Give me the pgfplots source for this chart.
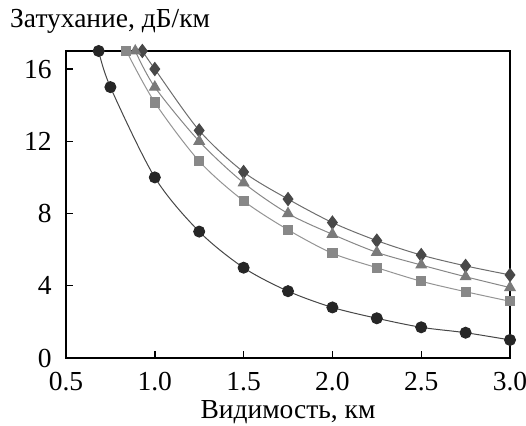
\documentclass[border=0pt]{standalone}
\usepackage{pgfplots}
\pgfplotsset{compat=1.18}
\usepackage{fontspec}
\setmainfont{Liberation Serif}
\definecolor{cA}{HTML}{262626}
\definecolor{cB}{HTML}{484848}
\definecolor{cC}{HTML}{7A7A7A}
\definecolor{cD}{HTML}{888888}
\begin{document}
\fontsize{27.5}{32}\selectfont
\begin{tikzpicture}
\path[use as bounding box] (0,0) rectangle (526pt,425pt);
\begin{axis}[
  at={(66pt,67pt)}, anchor=south west,
  scale only axis, width=444pt, height=307pt,
  xmin=0.5, xmax=3.0, ymin=0, ymax=17,
  xtick={0.5,1.0,1.5,2.0,2.5,3.0},
  ytick={0,4,8,12,16},
  xticklabel style={/pgf/number format/fixed,/pgf/number format/precision=1,/pgf/number format/fixed zerofill},
  /pgf/number format/assume math mode=true,
  tick label style={font=\fontsize{27.5}{32}\selectfont},
  tick align=inside, major tick length=7pt,
  xtick pos=bottom, ytick pos=left,
  axis line style={line width=1.6pt},
  major tick style={line width=1.4pt, black},
  xticklabel style={yshift=-5pt},
  yticklabel style={xshift=-5pt},
  clip=false,
  xlabel={Видимость, км},
  xlabel style={font=\fontsize{27.5}{32}\selectfont, yshift=9pt},
]
\addplot[color=cB!80, line width=1pt, smooth, mark=diamond*, mark size=6.5pt, mark options={fill=cB, draw=cB}] coordinates {
(0.93,17) (1.0,16) (1.25,12.6) (1.5,10.3) (1.75,8.8) (2.0,7.5) (2.25,6.5) (2.5,5.7) (2.75,5.1) (3.0,4.6)};
\addplot[color=cC!90, line width=1pt, smooth, mark=triangle*, mark size=6pt, mark options={fill=cC, draw=cC}] coordinates {
(0.89,17) (1.0,15.0) (1.25,12.0) (1.5,9.7) (1.75,8.0) (2.0,6.85) (2.25,5.85) (2.5,5.15) (2.75,4.5) (3.0,3.9)};
\addplot[color=cD!90, line width=1pt, smooth, mark=square*, mark size=4.6pt, mark options={fill=cD, draw=cD}] coordinates {
(0.84,17) (1.0,14.15) (1.25,10.9) (1.5,8.7) (1.75,7.1) (2.0,5.8) (2.25,5.0) (2.5,4.25) (2.75,3.67) (3.0,3.14)};
\addplot[color=cA!85, line width=1pt, smooth, mark=*, mark size=5.5pt, mark options={fill=cA, draw=cA}] coordinates {
(0.684,17) (0.75,15) (1.0,10) (1.25,7) (1.5,5) (1.75,3.7) (2.0,2.8) (2.25,2.2) (2.5,1.7) (2.75,1.4) (3.0,1.0)};
\end{axis}
\node[anchor=base west, inner sep=0pt] at (10pt,397pt) {Затухание, дБ/км};
\end{tikzpicture}
\end{document}
